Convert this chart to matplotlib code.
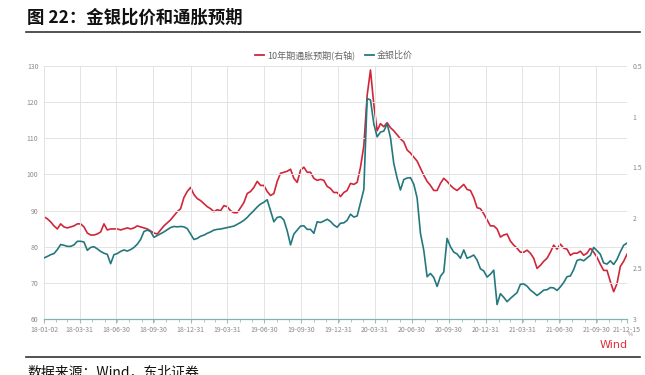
import numpy as np
import pandas as pd
import matplotlib
matplotlib.use("Agg")
import matplotlib.pyplot as plt
import matplotlib.dates as mdates
from matplotlib.lines import Line2D


# ==========================
# Data
# ==========================
START = "2018-01-02"
END = "2021-12-15"

# 金银比价 (left axis)
gold_silver_ratio = [
    76.9, 77.3, 77.8, 78.1, 79.2, 80.6, 80.4, 80.1, 80.1, 80.5, 81.5, 81.5, 81.3, 79.0, 79.8,
    80.0, 79.4, 78.7, 78.2, 77.9, 75.3, 77.8, 78.1, 78.7, 79.1, 78.8, 79.2, 79.8, 80.7, 82.0,
    84.2, 84.6, 84.2, 82.6, 83.1, 83.6, 84.1, 84.7, 85.3, 85.6, 85.5, 85.6, 85.5, 85.0,
    83.5, 82.0, 82.3, 82.9, 83.2, 83.7, 84.1, 84.6, 84.8, 84.9, 85.1, 85.3, 85.5, 85.7, 86.2,
    86.7, 87.3, 88.1, 89.1, 90.0, 91.0, 91.8, 92.3, 93.0, 89.9, 86.9, 88.1, 88.3, 87.4, 84.4,
    80.5, 83.5, 84.6, 85.7, 85.8, 84.8, 84.8, 83.7, 86.9, 86.7, 87.1, 87.6, 87.0, 86.0,
    85.4, 86.5, 86.6, 87.3, 89.0, 88.2, 88.5, 92.2, 95.8, 121.0, 120.6, 114.0, 110.4, 111.7,
    112.0, 114.0, 110.2, 103.0, 99.0, 95.7, 98.6, 99.0, 99.1, 97.3, 93.5, 83.7, 79.0, 71.7,
    72.6, 71.5, 69.0, 71.8, 73.0, 82.3, 80.0, 78.5, 78.0, 76.8, 79.1, 76.8, 77.2, 77.7, 76.3,
    73.9, 73.3, 71.6, 72.4, 73.5, 64.0, 67.0, 66.0, 64.8, 65.7, 66.5, 67.3, 69.6, 69.7, 69.1,
    68.0, 67.3, 66.5, 67.2, 68.0, 68.1, 68.7, 68.6, 67.9, 68.9, 70.1, 71.7, 71.9, 73.7, 76.2,
    76.5, 76.1, 76.9, 77.6, 79.8, 78.9, 77.9, 75.5, 75.2, 76.1, 75.1, 76.5, 78.6, 80.4, 81.0,
]

# 10年期通胀预期 (right axis, %, inverted)
inflation_10y = [
    1.99, 2.01, 2.04, 2.08, 2.11, 2.06, 2.09, 2.10, 2.09, 2.08, 2.06, 2.06, 2.09, 2.15, 2.17,
    2.17, 2.16, 2.14, 2.06, 2.12, 2.11, 2.11, 2.11, 2.12, 2.11, 2.10, 2.11, 2.10, 2.08, 2.09,
    2.10, 2.11, 2.13, 2.15, 2.16, 2.12, 2.08, 2.05, 2.02, 1.98, 1.94, 1.91, 1.80, 1.74,
    1.70, 1.77, 1.81, 1.83, 1.86, 1.89, 1.91, 1.94, 1.92, 1.93, 1.88, 1.89, 1.93, 1.95, 1.95,
    1.90, 1.85, 1.76, 1.74, 1.70, 1.64, 1.68, 1.68, 1.74, 1.78, 1.76, 1.64, 1.56, 1.55, 1.54,
    1.52, 1.61, 1.65, 1.53, 1.50, 1.55, 1.55, 1.61, 1.63, 1.62, 1.63, 1.69, 1.71, 1.75,
    1.75, 1.79, 1.75, 1.73, 1.66, 1.67, 1.65, 1.50, 1.29, 0.79, 0.54, 0.88, 1.14, 1.07,
    1.10, 1.06, 1.11, 1.14, 1.18, 1.22, 1.25, 1.33, 1.36, 1.40, 1.44, 1.51, 1.58, 1.64,
    1.68, 1.73, 1.73, 1.66, 1.61, 1.64, 1.68, 1.71, 1.73, 1.70, 1.67, 1.72, 1.73, 1.80, 1.90,
    1.91, 1.96, 2.02, 2.08, 2.08, 2.11, 2.19, 2.17, 2.16, 2.23, 2.27, 2.30, 2.34, 2.34, 2.32,
    2.35, 2.40, 2.50, 2.47, 2.43, 2.40, 2.34, 2.27, 2.31, 2.26, 2.30, 2.31, 2.37, 2.35, 2.35,
    2.33, 2.37, 2.35, 2.30, 2.34, 2.39, 2.46, 2.52, 2.52, 2.63, 2.73, 2.65, 2.48, 2.43, 2.36,
]

tick_dates = [
    "2018-01-02", "2018-03-31", "2018-06-30", "2018-09-30", "2018-12-31",
    "2019-03-31", "2019-06-30", "2019-09-30", "2019-12-31", "2020-03-31",
    "2020-06-30", "2020-09-30", "2020-12-31", "2021-03-31", "2021-06-30",
    "2021-09-30", "2021-12-15",
]
left_ticks = [60, 70, 80, 90, 100, 110, 120, 130]
right_ticks = [0.5, 1, 1.5, 2, 2.5, 3]
right_labels = ["0.5", "1", "1.5", "2", "2.5", "3"]

TITLE = "图 22：金银比价和通胀预期"
SOURCE = "数据来源：Wind，东北证券"
RED = "#d0263a"
TEAL = "#24787d"
GRID = "#e3e3e3"
TICK = "#8a8a8a"

plt.rcParams["font.family"] = ["Noto Sans CJK SC", "DejaVu Sans"]


# ==========================
# Plot
# ==========================
def main():
    dates = pd.date_range(START, END, periods=len(gold_silver_ratio))
    ticks = pd.to_datetime(tick_dates)

    fig = plt.figure(figsize=(6.45, 3.75), dpi=100)
    ax = fig.add_axes([44 / 645, 1 - 319 / 375, (627 - 44) / 645, (319 - 66) / 375])
    ax2 = ax.twinx()

    ax.plot(dates, gold_silver_ratio, color=TEAL, lw=1.2, zorder=3)
    ax2.plot(dates, inflation_10y, color=RED, lw=1.2, zorder=2)

    ax.set_xlim(ticks[0], ticks[-1])
    ax.set_ylim(60, 130)
    ax2.set_ylim(3, 0.5)

    ax.set_yticks(left_ticks)
    ax.set_yticklabels([str(t) for t in left_ticks])
    ax2.set_yticks(right_ticks)
    ax2.set_yticklabels(right_labels)

    ax.set_xticks(ticks)
    ax.set_xticklabels([d.strftime("%y-%m-%d") for d in ticks])
    ax.xaxis.set_minor_locator(mdates.MonthLocator())

    ax.grid(True, color=GRID, lw=0.7)
    ax.set_axisbelow(True)
    ax.set_zorder(ax2.get_zorder() + 1)
    ax.patch.set_visible(False)

    for a in (ax, ax2):
        for s in ("top", "left", "right"):
            a.spines[s].set_visible(False)
        a.spines["bottom"].set_color("#7fb3b5")
        a.spines["bottom"].set_linewidth(0.8)
        a.tick_params(axis="y", length=0, labelsize=5, labelcolor=TICK, pad=4)
    ax.tick_params(axis="x", which="major", length=3, color="#9abfc1",
                   labelsize=5, labelcolor=TICK, pad=2)
    ax.tick_params(axis="x", which="minor", length=2, color="#9abfc1")

    # legend
    handles = [Line2D([], [], color=RED, lw=1.3), Line2D([], [], color=TEAL, lw=1.3)]
    fig.legend(handles, ["10年期通胀预期(右轴)", "金银比价"], loc="center",
               bbox_to_anchor=(334 / 645, 1 - 55 / 375), ncol=2, frameon=False,
               fontsize=6.5, labelcolor="#666666", handlelength=1.0,
               handletextpad=0.4, columnspacing=1.0)

    # title, rules, source
    fig.text(27 / 645, 1 - 18 / 375, TITLE, fontsize=12.5, fontweight="bold",
             va="center", ha="left", color="#111111")
    fig.add_artist(Line2D([26 / 645, 640 / 645], [1 - 32 / 375] * 2,
                          color="#333333", lw=1.2))
    fig.add_artist(Line2D([26 / 645, 640 / 645], [1 - 357 / 375] * 2,
                          color="#333333", lw=1.2))
    fig.text(27 / 645, 1 - 365 / 375, SOURCE, fontsize=10, va="top", ha="left",
             color="#111111")

    fig.text(630 / 645, 1 - 335 / 375, "%", fontsize=4, color=TICK, ha="center",
             va="center")
    fig.text(628 / 645, 1 - 345 / 375, "Wind", fontsize=8, color="#e0303a",
             ha="right", va="center", family="DejaVu Sans")

    fig.savefig("out.png", dpi=100)
    plt.close(fig)


if __name__ == "__main__":
    main()
